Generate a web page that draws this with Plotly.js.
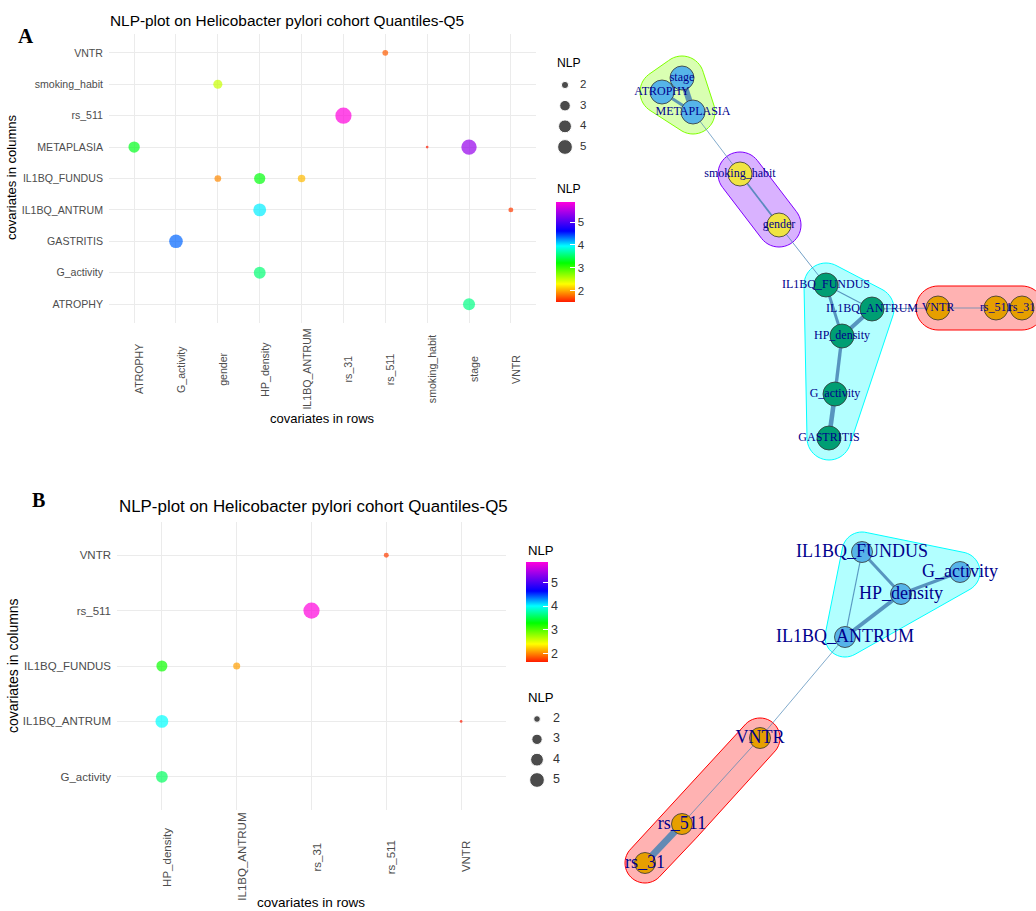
<!DOCTYPE html>
<html><head><meta charset="utf-8">
<script src="https://cdn.plot.ly/plotly-3.0.1.min.js"></script>
<style>html,body{margin:0;padding:0;background:#fff}#chart{width:1036px;height:911px}</style>
</head><body><div id="chart"></div>
<script>
// ---------- Panel A : NLP dot plot ----------
const xCatsA = ["ATROPHY","G_activity","gender","HP_density","IL1BQ_ANTRUM","rs_31","rs_511","smoking_habit","stage","VNTR"];
const yCatsA = ["ATROPHY","G_activity","GASTRITIS","IL1BQ_ANTRUM","IL1BQ_FUNDUS","METAPLASIA","rs_511","smoking_habit","VNTR"];
const rowA = ["rs_511","gender","rs_31","ATROPHY","smoking_habit","stage","gender","HP_density","IL1BQ_ANTRUM","HP_density","VNTR","G_activity","HP_density","stage"];
const colA = ["VNTR","smoking_habit","rs_511","METAPLASIA","METAPLASIA","METAPLASIA","IL1BQ_FUNDUS","IL1BQ_FUNDUS","IL1BQ_FUNDUS","IL1BQ_ANTRUM","IL1BQ_ANTRUM","GASTRITIS","G_activity","ATROPHY"];
const nlpA = [1.75,2.5,5.87,3.3,1.52,5.35,1.9,3.25,2.07,4.0,1.63,4.35,3.55,3.6];

// ---------- Panel B : NLP dot plot ----------
const xCatsB = ["HP_density","IL1BQ_ANTRUM","rs_31","rs_511","VNTR"];
const yCatsB = ["G_activity","IL1BQ_ANTRUM","IL1BQ_FUNDUS","rs_511","VNTR"];
const rowB = ["rs_511","rs_31","HP_density","IL1BQ_ANTRUM","HP_density","VNTR","HP_density"];
const colB = ["VNTR","rs_511","IL1BQ_FUNDUS","IL1BQ_FUNDUS","IL1BQ_ANTRUM","IL1BQ_ANTRUM","G_activity"];
const nlpB = [1.75,5.87,3.25,2.07,4.0,1.63,3.55];

// legend breaks
const sizeBreaks = [2,3,4,5];
const colorTicks = [2,3,4,5];

// ---------- Networks (layout coordinates) ----------
const netNodesA = ["stage","ATROPHY","METAPLASIA","smoking_habit","gender","IL1BQ_FUNDUS","IL1BQ_ANTRUM","HP_density","G_activity","GASTRITIS","VNTR","rs_511","rs_31"];
const netAx = [92,72,103,150,189,236,282,252,245,239,348,406,432];
const netAy = [38,52,72,134,185,245,269,296,354,398,268,268,268];
const groupA = [2,2,2,4,4,3,3,3,3,3,1,1,1];

const netNodesB = ["IL1BQ_FUNDUS","G_activity","HP_density","IL1BQ_ANTRUM","VNTR","rs_511","rs_31"];
const netBx = [272,370,311,255,170,92,55];
const netBy = [32,52,74,117,218,304,343];
const groupB = [2,2,2,2,1,1,1];

const vertexPal = ["#E69F00","#56B4E9","#009E73","#F0E442"];
const hullPalA = ["#FF0000","#80FF00","#00FFFF","#8000FF"];
const hullPalB = ["#FF0000","#00FFFF"];

// ---------- helpers ----------
const W = 1036, H = 911;
const X = p => p / W;
const Y = p => 1 - p / H;
const colorscale = [[0,'#FF1A00'],[0.18,'#FFFF00'],[0.39,'#00FF00'],[0.56,'#00FFFF'],[0.71,'#0000FF'],[1,'#FF00DD']];
function ggSize(v, lo, hi){ return 2.7*(1 + 5*Math.sqrt(Math.max(0,(v-lo)/(hi-lo)))); }
function edgeW(v){ return Math.max(0.8, 1.5*(v-1.3)); }
function rgba(hex, a){
  const r=parseInt(hex.slice(1,3),16), g=parseInt(hex.slice(3,5),16), b=parseInt(hex.slice(5,7),16);
  return `rgba(${r},${g},${b},${a})`;
}
function hullPath(xs, ys, R){
  const pts=[];
  for(let i=0;i<xs.length;i++) for(let k=0;k<48;k++){
    const a=2*Math.PI*k/48; pts.push([xs[i]+R*Math.cos(a), ys[i]+R*Math.sin(a)]);
  }
  pts.sort((a,b)=>a[0]-b[0]||a[1]-b[1]);
  const cross=(o,a,b)=>(a[0]-o[0])*(b[1]-o[1])-(a[1]-o[1])*(b[0]-o[0]);
  const lower=[],upper=[];
  for(const p of pts){ while(lower.length>=2&&cross(lower[lower.length-2],lower[lower.length-1],p)<=0) lower.pop(); lower.push(p); }
  for(let i=pts.length-1;i>=0;i--){ const p=pts[i]; while(upper.length>=2&&cross(upper[upper.length-2],upper[upper.length-1],p)<=0) upper.pop(); upper.push(p); }
  const hull=lower.slice(0,-1).concat(upper.slice(0,-1));
  return 'M'+hull.map(p=>p[0].toFixed(2)+','+p[1].toFixed(2)).join('L')+'Z';
}

const traces = [];
const shapes = [];
const annotations = [];
function note(o){ annotations.push(Object.assign({showarrow:false, xanchor:'center', yanchor:'middle'}, o)); }

// ---------- dot plots ----------
function dotPanel(xs, ys, v, xa, ya, cb){
  const lo=Math.min(...v), hi=Math.max(...v);
  traces.push({type:'scatter', mode:'markers', x:xs, y:ys, xaxis:xa, yaxis:ya,
    marker:{size:v.map(z=>ggSize(z,lo,hi)), color:v, cmin:lo, cmax:hi, colorscale:colorscale,
      line:{width:0}, showscale:true,
      colorbar:Object.assign({xanchor:'left', yanchor:'top', xpad:0, ypad:0, lenmode:'pixels', thicknessmode:'pixels',
        outlinewidth:0, tickvals:colorTicks, ticks:'inside', ticklen:5, tickcolor:'#ffffff', tickwidth:1,
        title:{text:''}}, cb)},
    hoverinfo:'skip'});
  return [lo,hi];
}
const rangeA = dotPanel(rowA, colA, nlpA, 'x', 'y', {x:X(556), y:Y(202), len:100, thickness:19, tickfont:{size:11.5,color:'#333'}});
const rangeB = dotPanel(rowB, colB, nlpB, 'x2', 'y2', {x:X(526), y:Y(562), len:100, thickness:22, tickfont:{size:12.5,color:'#333'}});

// size legends
traces.push({type:'scatter', mode:'markers', x:sizeBreaks.map(()=>20), y:sizeBreaks, xaxis:'x5', yaxis:'y5',
  marker:{color:'#000', size:sizeBreaks.map(z=>ggSize(z,rangeA[0],rangeA[1]))}, hoverinfo:'skip'});
traces.push({type:'scatter', mode:'text', x:sizeBreaks.map(()=>35), y:sizeBreaks, xaxis:'x5', yaxis:'y5',
  text:sizeBreaks.map(String), textposition:'middle right', textfont:{size:11.5,color:'#333'}, hoverinfo:'skip'});
traces.push({type:'scatter', mode:'markers', x:sizeBreaks.map(()=>17), y:sizeBreaks, xaxis:'x6', yaxis:'y6',
  marker:{color:'#000', size:sizeBreaks.map(z=>ggSize(z,rangeB[0],rangeB[1]))}, hoverinfo:'skip'});
traces.push({type:'scatter', mode:'text', x:sizeBreaks.map(()=>33), y:sizeBreaks, xaxis:'x6', yaxis:'y6',
  text:sizeBreaks.map(String), textposition:'middle right', textfont:{size:12.5,color:'#333'}, hoverinfo:'skip'});

// ---------- networks ----------
function network(nodes, nx, ny, grp, rows, cols, v, xa, ya, hullPal, R, nodeSize, labelSize){
  const ngroups = Math.max(...grp);
  for(let g=1; g<=ngroups; g++){
    const gx=[], gy=[];
    grp.forEach((q,i)=>{ if(q===g){ gx.push(nx[i]); gy.push(ny[i]); } });
    shapes.push({type:'path', xref:xa, yref:ya, path:hullPath(gx,gy,R), layer:'below',
      fillcolor:rgba(hullPal[g-1],0.3), line:{color:hullPal[g-1], width:1}});
  }
  for(let e=0; e<rows.length; e++){
    const i=nodes.indexOf(rows[e]), j=nodes.indexOf(cols[e]);
    if(i<0||j<0) continue;
    traces.push({type:'scatter', mode:'lines', x:[nx[i],nx[j]], y:[ny[i],ny[j]], xaxis:xa, yaxis:ya,
      line:{color:'rgba(70,130,180,0.85)', width:edgeW(v[e])}, hoverinfo:'skip'});
  }
  traces.push({type:'scatter', mode:'markers+text', x:nx, y:ny, xaxis:xa, yaxis:ya, text:nodes,
    textposition:'middle center', textfont:{family:'Liberation Serif', size:labelSize, color:'#00008B'},
    marker:{size:nodeSize, color:grp.map(q=>vertexPal[q-1]), line:{color:'#333', width:0.8}}, hoverinfo:'skip'});
}
network(netNodesA, netAx, netAy, groupA, rowA, colA, nlpA, 'x3', 'y3', hullPalA, 22, 24, 12);
network(netNodesB, netBx, netBy, groupB, rowB, colB, nlpB, 'x4', 'y4', hullPalB, 20, 21, 18);

// ---------- annotations ----------
const tickFontA = {size:10.6, color:'#4D4D4D'};
const tickFontB = {size:11.5, color:'#4D4D4D'};
xCatsA.forEach((c,i)=>note({xref:'x', x:i, yref:'paper', y:Y(369), text:c, textangle:-90, font:tickFontA, xshift:5}));
xCatsB.forEach((c,i)=>note({xref:'x2', x:i, yref:'paper', y:Y(857), text:c, textangle:-90, font:tickFontB, xshift:5}));
note({xref:'paper', yref:'paper', x:X(322), y:Y(418), text:'covariates in rows', font:{size:13,color:'#000'}});
note({xref:'paper', yref:'paper', x:X(12), y:Y(178), text:'covariates in columns', textangle:-90, font:{size:13,color:'#000'}});
note({xref:'paper', yref:'paper', x:X(311), y:Y(902), text:'covariates in rows', font:{size:13.5,color:'#000'}});
note({xref:'paper', yref:'paper', x:X(13), y:Y(666), text:'covariates in columns', textangle:-90, font:{size:14,color:'#000'}});
note({xref:'paper', yref:'paper', x:X(117), y:Y(507), xanchor:'left', text:'NLP-plot on Helicobacter pylori cohort Quantiles-Q5', font:{size:16.9,color:'#000'}});
note({xref:'paper', yref:'paper', x:X(555), y:Y(63), xanchor:'left', text:'NLP', font:{size:12.2,color:'#000'}});
note({xref:'paper', yref:'paper', x:X(555), y:Y(189), xanchor:'left', text:'NLP', font:{size:12.2,color:'#000'}});
note({xref:'paper', yref:'paper', x:X(526), y:Y(550), xanchor:'left', text:'NLP', font:{size:13.2,color:'#000'}});
note({xref:'paper', yref:'paper', x:X(526), y:Y(697), xanchor:'left', text:'NLP', font:{size:13.2,color:'#000'}});
note({xref:'paper', yref:'paper', x:X(25.5), y:Y(36), text:'<b>A</b>', font:{family:'Liberation Serif', size:21, color:'#000'}});
note({xref:'paper', yref:'paper', x:X(38), y:Y(500), text:'<b>B</b>', font:{family:'Liberation Serif', size:20, color:'#000'}});

const catAxis = (cats, dom, anchor, showLabels, font) => ({
  type:'category', categoryorder:'array', categoryarray:cats, range:[-0.6, cats.length-0.4],
  domain:dom, anchor:anchor, showgrid:true, gridcolor:'#EBEBEB', gridwidth:1, zeroline:false,
  showline:false, ticks:'', showticklabels:showLabels, tickfont:font, ticklabelstandoff:5, fixedrange:true
});
const hidden = (dom, rng, anchor) => ({domain:dom, range:rng, anchor:anchor, visible:false, fixedrange:true});

const layout = {
  width:W, height:H, margin:{l:0,r:0,t:0,b:0}, paper_bgcolor:'#fff', plot_bgcolor:'rgba(0,0,0,0)',
  font:{family:'Liberation Sans', color:'#000'}, showlegend:false, hovermode:false,
  title:{text:'NLP-plot on Helicobacter pylori cohort Quantiles-Q5', x:X(110), xanchor:'left', xref:'paper',
    y:Y(21), yanchor:'middle', yref:'paper', font:{size:15.4, color:'#000'}},
  xaxis: catAxis(xCatsA, [X(109), X(536)], 'y', false, tickFontA),
  yaxis: catAxis(yCatsA, [Y(323), Y(34)], 'x', true, tickFontA),
  xaxis2: catAxis(xCatsB, [X(117), X(506)], 'y2', false, tickFontB),
  yaxis2: catAxis(yCatsB, [Y(810), Y(522)], 'x2', true, tickFontB),
  xaxis3: hidden([X(590), 1], [0,446], 'y3'),
  yaxis3: hidden([Y(470), Y(40)], [430,0], 'x3'),
  xaxis4: hidden([X(590), 1], [0,446], 'y4'),
  yaxis4: hidden([0, Y(520)], [391,0], 'x4'),
  xaxis5: hidden([X(545), X(610)], [0,65], 'y5'),
  yaxis5: hidden([Y(167.67), Y(64.33)], [6,1], 'x5'),
  xaxis6: hidden([X(520), X(585)], [0,65], 'y6'),
  yaxis6: hidden([Y(800.33), Y(698.67)], [6,1], 'x6'),
  shapes:shapes, annotations:annotations
};
Plotly.newPlot('chart', traces, layout, {staticPlot:true, displayModeBar:false});
</script></body></html>
